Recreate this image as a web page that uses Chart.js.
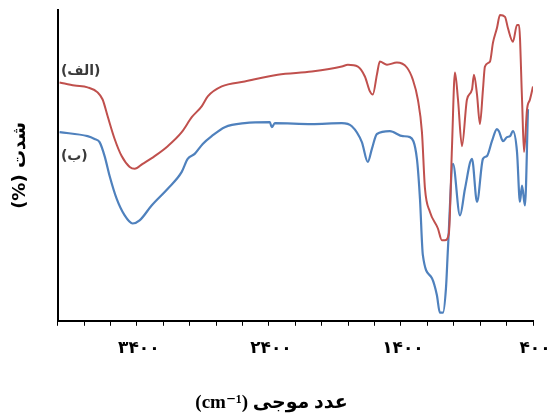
<!DOCTYPE html>
<html>
<head>
<meta charset="utf-8">
<script src="https://cdn.jsdelivr.net/npm/chart.js@4/dist/chart.umd.min.js"></script>
<style>
  html, body { margin: 0; padding: 0; background: #fff; }
  #wrap { width: 553px; height: 414px; }
</style>
</head>
<body>
<div id="wrap"><canvas id="graficoFTIR"></canvas></div>
<script>
// طیف الف (قرمز)
const waveA = [3985, 3871, 3773, 3697, 3659, 3621, 3568, 3515, 3454, 3416, 3356, 3265, 3166, 3060, 2984, 2909,
  2863, 2757, 2583, 2333, 2075, 1848, 1802, 1726, 1673, 1635, 1613, 1582, 1560, 1506, 1431, 1355, 1310, 1272,
  1241, 1218, 1181, 1120, 1090, 1067, 1037, 1014, 991, 968, 938, 900, 862, 847, 824, 802, 779, 764, 726, 703,
  673, 650, 612, 590, 552, 521, 506, 483, 468, 445, 423, 400];
const intensA = [76.7, 75.7, 75.1, 73.5, 71.2, 65.8, 58.5, 53.0, 49.5, 48.9, 50.5, 53.0, 56.2, 60.7, 65.5, 69.0,
  72.2, 75.4, 77.0, 79.2, 80.2, 81.8, 82.4, 81.8, 78.6, 73.8, 72.8, 79.2, 83.4, 82.4, 83.1, 81.5, 77.6, 71.2,
  60.7, 42.5, 35.1, 29.7, 25.9, 25.9, 28.1, 55.3, 79.9, 71.2, 56.2, 71.2, 74.4, 79.2, 72.8, 63.3, 74.4, 81.8, 83.4, 89.5,
  94.2, 98.4, 97.8, 94.2, 89.8, 95.2, 95.2, 71.2, 54.3, 68.1, 71.2, 75.4];

// طیف ب (آبی)
const waveB = [3985, 3773, 3720, 3682, 3644, 3606, 3553, 3492, 3432, 3379, 3288, 3166, 3060, 3015, 2962, 2901,
  2833, 2734, 2583, 2393, 2378, 2355, 2075, 1848, 1772, 1696, 1651, 1620, 1582, 1484, 1385, 1332, 1279, 1256,
  1234, 1165, 1128, 1105, 1082, 1059, 1044, 1006, 953, 915, 862, 824, 779, 749, 711, 673, 658, 627, 597, 574,
  552, 521, 499, 483, 461, 438];
const intensB = [60.7, 59.4, 58.5, 57.5, 53.0, 46.6, 39.3, 33.9, 31.3, 32.3, 37.1, 42.5, 47.9, 52.1, 53.7, 56.9,
  59.4, 62.3, 63.6, 63.9, 62.3, 63.6, 63.3, 63.6, 62.6, 57.5, 51.1, 55.3, 60.1, 61.0, 59.4, 59.1, 52.1, 39.3,
  21.1, 13.7, 8.3, 2.6, 2.6, 10.5, 23.3, 50.5, 33.9, 42.5, 52.1, 38.3, 52.1, 53.0, 57.8, 61.7, 61.0, 57.8, 59.1, 59.4,
  61.0, 54.3, 38.3, 43.5, 37.1, 68.1];

const xTickLabels = [3400, 2400, 1400, 400];
const seriesNames = ['(الف)', '(ب)'];
const seriesColors = ['#c0504d', '#4f81bd'];

const toPersian = (n) => String(n).replace(/\d/g, d => '۰۱۲۳۴۵۶۷۸۹'[d]);
const toPoints = (xs, ys) => xs.map((x, i) => ({ x: x, y: ys[i] }));

// برچسب الف و ب کنار منحنی ها
const seriesTags = {
  id: 'seriesTags',
  afterDatasetsDraw(chart) {
    const { ctx, scales } = chart;
    const anchors = [[3975, 80.3], [3975, 53.0]];
    ctx.save();
    ctx.font = 'bold 14px "DejaVu Sans"';
    ctx.fillStyle = '#3a3a3a';
    ctx.textAlign = 'left';
    ctx.textBaseline = 'middle';
    seriesNames.forEach((name, i) => {
      ctx.fillText(name, scales.x.getPixelForValue(anchors[i][0]), scales.y.getPixelForValue(anchors[i][1]));
    });
    ctx.restore();
  }
};

const ctx = document.getElementById('graficoFTIR').getContext('2d');

new Chart(ctx, {
  type: 'line',
  data: {
    datasets: [
      {
        label: seriesNames[0],
        data: toPoints(waveA, intensA),
        borderColor: seriesColors[0],
        borderWidth: 2,
        pointRadius: 0,
        cubicInterpolationMode: 'monotone'
      },
      {
        label: seriesNames[1],
        data: toPoints(waveB, intensB),
        borderColor: seriesColors[1],
        borderWidth: 2.2,
        pointRadius: 0,
        cubicInterpolationMode: 'monotone'
      }
    ]
  },
  options: {
    responsive: true,
    maintainAspectRatio: false,
    animation: false,
    layout: { padding: { left: 8, right: 20, top: 10, bottom: 0 } },
    plugins: {
      legend: { display: false },
      tooltip: { enabled: false }
    },
    scales: {
      x: {
        type: 'linear',
        reverse: true,
        min: 400,
        max: 4000,
        afterFit: (scale) => { scale.paddingRight = 0; scale.paddingLeft = 0; },
        grid: { display: true, drawOnChartArea: false, drawTicks: true, tickLength: 5, color: '#000', lineWidth: 1 },
        border: { display: true, color: '#000', width: 2 },
        ticks: {
          stepSize: 200,
          autoSkip: false,
          maxRotation: 0,
          padding: 13,
          labelOffset: 2,
          color: '#000',
          font: { family: '"DejaVu Sans"', size: 17, weight: 'bold' },
          callback: (v) => xTickLabels.includes(v) ? toPersian(v) : ''
        },
        title: {
          display: true,
          text: '(cm⁻¹) عدد موجی\u2003\u2003\u2002',
          color: '#000',
          font: { family: '"Liberation Serif", "DejaVu Sans"', size: 19, weight: 'bold' },
          padding: { top: 19, bottom: 0 }
        }
      },
      y: {
        min: 0,
        max: 100,
        grid: { display: false, drawTicks: false },
        border: { display: true, color: '#000', width: 2 },
        ticks: { display: false },
        title: {
          display: true,
          text: '(%) شدت',
          color: '#000',
          font: { family: '"DejaVu Sans"', size: 18, weight: 'bold' },
          padding: { top: 2, bottom: 26 }
        }
      }
    }
  },
  plugins: [seriesTags]
});
</script>
</body>
</html>
